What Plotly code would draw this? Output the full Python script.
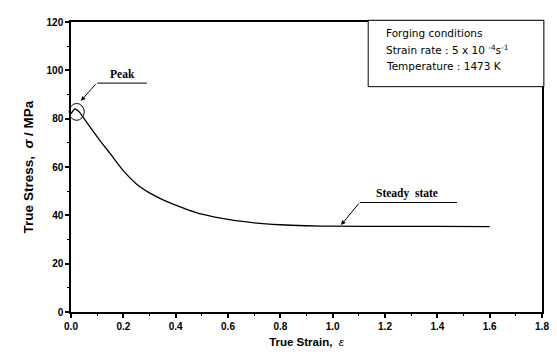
import plotly.graph_objects as go

strain = [0.0, 0.015, 0.03, 0.05, 0.10, 0.15, 0.20, 0.25, 0.30, 0.35, 0.40, 0.45, 0.50, 0.60, 0.70, 0.80, 0.90, 1.00, 1.20, 1.40, 1.60]
stress = [82.0, 84.0, 83.0, 80.0, 72.5, 65.5, 58.5, 53.0, 49.3, 46.5, 44.2, 42.2, 40.5, 38.3, 36.9, 36.1, 35.7, 35.5, 35.4, 35.4, 35.3]

x_ticks = [0.0, 0.2, 0.4, 0.6, 0.8, 1.0, 1.2, 1.4, 1.6, 1.8]
x_tick_labels = ["0.0", "0.2", "0.4", "0.6", "0.8", "1.0", "1.2", "1.4", "1.6", "1.8"]
y_ticks = [0, 20, 40, 60, 80, 100, 120]

legend_lines = ["Forging conditions",
                "Strain rate : 5 x 10 <sup>-4</sup>s<sup>-1</sup>",
                "Temperature : 1473 K"]

fig = go.Figure()
fig.add_trace(go.Scatter(x=strain, y=stress, mode="lines",
                         line=dict(color="black", width=1.3, shape="spline", smoothing=0.8),
                         showlegend=False, hoverinfo="skip"))

axis_common = dict(showline=True, linecolor="black", linewidth=1.5, mirror=True,
                   ticks="outside", tickcolor="black", ticklen=4, tickwidth=1.5,
                   showgrid=False, zeroline=False,
                   tickfont=dict(family="Arial, Liberation Sans", size=10, color="black", weight="bold"))

fig.update_xaxes(range=[0, 1.8], tickvals=x_ticks, ticktext=x_tick_labels,
                 minor=dict(dtick=0.1, ticks="outside", ticklen=2, tickcolor="black", tickwidth=1),
                 title=dict(text="<b>True Strain,  </b><i>ε</i>",
                            font=dict(family="Arial, Liberation Sans", size=11.5, color="black"),
                            standoff=7),
                 **axis_common)
fig.update_yaxes(range=[0, 120], tickvals=y_ticks,
                 minor=dict(dtick=10, ticks="outside", ticklen=2, tickcolor="black", tickwidth=1),
                 title=dict(text="<b>True Stress,  </b><i><b>σ</b></i><b> / MPa</b>",
                            font=dict(family="Arial, Liberation Sans", size=13.5, color="black"),
                            standoff=10),
                 **axis_common)

# Peak circle
fig.add_shape(type="circle", xref="paper", yref="paper",
              x0=0.012 - 0.016, x1=0.012 + 0.016, y0=0.69 - 0.029, y1=0.69 + 0.029,
              line=dict(color="black", width=1))

serif = dict(family="Liberation Serif, Times New Roman", size=11.5, color="black")

# Peak annotation
fig.add_annotation(x=0.038, y=87.4, xref="x", yref="y", ax=16, ay=-18, text="",
                   showarrow=True, arrowhead=2, arrowsize=0.9, arrowwidth=1, arrowcolor="black")
fig.add_shape(type="line", xref="x", yref="y", x0=0.1, x1=0.29, y0=94.7, y1=94.7,
              line=dict(color="black", width=1))
fig.add_annotation(x=0.195, y=98.5, xref="x", yref="y", text="<b>Peak</b>", showarrow=False,
                   font=serif)

# Steady state annotation
fig.add_annotation(x=1.032, y=36.0, xref="x", yref="y", ax=19, ay=-23, text="",
                   showarrow=True, arrowhead=2, arrowsize=0.9, arrowwidth=1, arrowcolor="black")
fig.add_shape(type="line", xref="x", yref="y", x0=1.104, x1=1.475, y0=45.3, y1=45.3,
              line=dict(color="black", width=1))
fig.add_annotation(x=1.284, y=49.0, xref="x", yref="y", text="<b>Steady  state</b>", showarrow=False,
                   font=serif)

# Condition box
fig.add_shape(type="rect", xref="paper", yref="paper", x0=0.631, x1=1.004, y0=0.777, y1=1.006,
              line=dict(color="black", width=1), fillcolor="white")
sans = dict(family="DejaVu Sans", size=10.5, color="black")
for i, t in enumerate(legend_lines):
    fig.add_annotation(x=0.665, y=0.962 - i * 0.0575, xref="paper", yref="paper", text=t,
                       showarrow=False, xanchor="left", yanchor="middle", font=sans)

# page body has an 8px margin, so the figure is sized to fit the 557x357 window
fig.update_layout(width=549, height=349, margin=dict(l=63, r=15, t=8, b=45),
                  plot_bgcolor="white", paper_bgcolor="white")

fig.write_html("out.html")
